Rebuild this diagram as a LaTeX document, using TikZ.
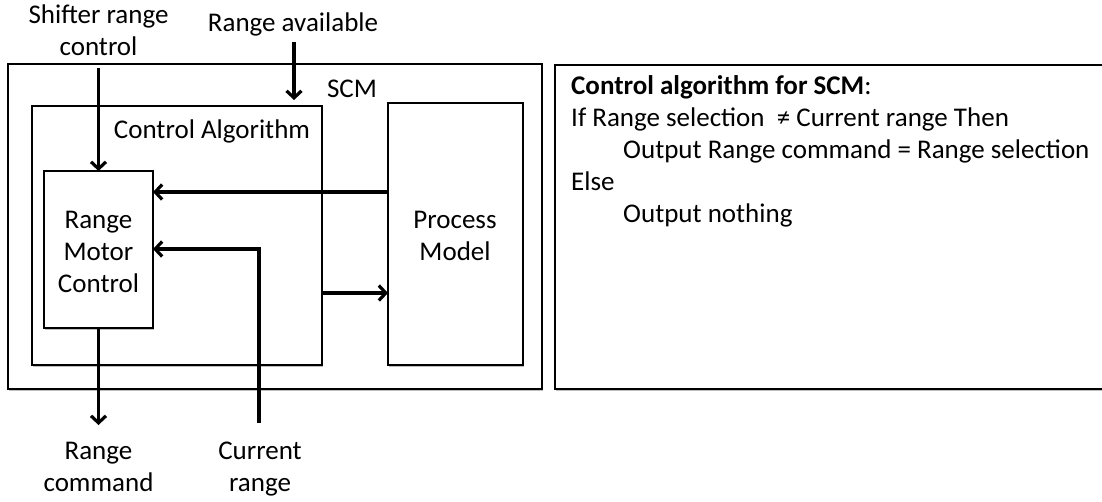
\documentclass[tikz,border=0pt]{standalone}
\usepackage{fontspec}
\setmainfont{Carlito}
\usetikzlibrary{arrows.meta,shadows}
\begin{document}
\begin{tikzpicture}[x=1pt,y=-1pt,
  box/.style={draw=black, line width=2pt, fill=white, inner sep=0pt, outer sep=0pt,
    anchor=north west,
    drop shadow={shadow xshift=1.2pt, shadow yshift=-1.5pt, opacity=0.25, fill=black}},
  flow/.style={line width=3.2pt, -{Straight Barb[length=7pt,width=15pt]}},
  txt/.style={inner sep=0pt, align=center, font=\fontsize{27}{32}\selectfont},
  note/.style={inner sep=0pt, align=left, font=\fontsize{27}{32}\selectfont},
]
\useasboundingbox (0,0) rectangle (1102,501);
\clip (0,0) rectangle (1102,501);

% boxes
\node[box, minimum width=534pt, minimum height=325pt] (scm) at (8,64) {};
\node[box, minimum width=290pt, minimum height=259pt] (ca) at (32,106) {};
\node[box, minimum width=109pt, minimum height=157pt] (rmc) at (44,171) {};
\node[box, minimum width=135pt, minimum height=262pt] (pm) at (388,103) {};
\node[box, minimum width=570pt, minimum height=324pt] (alg) at (555,65) {};

% box captions (multi-line nodes sit on the baseline of their last line)
\node[txt, anchor=base] (scmlbl) at (352,97) {SCM};
\node[txt, anchor=base] (calbl) at (212,138) {Control Algorithm};
\node[txt, anchor=base] (rmclbl) at (98.5,292) {Range\\Motor\\Control};
\node[txt, anchor=base] (pmlbl) at (455,260) {Process\\Model};

% outside labels
\node[txt, anchor=base] (shift) at (98.5,55) {Shifter range\\control};
\node[txt, anchor=base] (avail) at (293,31) {Range available};
\node[txt, anchor=base] (cmd) at (98.5,491) {Range\\command};
\node[txt, anchor=base] (cur) at (260,491) {Current\\range};

% connector end points
\coordinate (shiftin) at (98.5,68);
\coordinate (availtop) at (294,42);
\coordinate (availtip) at (294,100);
\coordinate (curbot) at (259,423);
\coordinate (curturn) at (259,249);
\coordinate (cmdtip) at (98.5,425);

% connectors
\draw[flow] (shiftin) -- (rmc.north);
\draw[flow] (availtop) -- (availtip);
\draw[flow] (pm.west |- {0,192}) -- (rmc.east |- {0,192});
\draw[flow] (curbot) -- (curturn) -- (rmc.east |- curturn);
\draw[flow] (ca.east |- {0,293}) -- (pm.west |- {0,293});
\draw[flow] (rmc.south) -- (cmdtip);

% algorithm text
\node[note, anchor=base west] (algtxt) at (571,222) {\textbf{Control algorithm for SCM}:\\
If Range selection\ \ ≠ Current range Then\\
\hspace*{52pt}Output Range command = Range selection\\
Else\\
\hspace*{52pt}Output nothing};
\end{tikzpicture}
\end{document}
